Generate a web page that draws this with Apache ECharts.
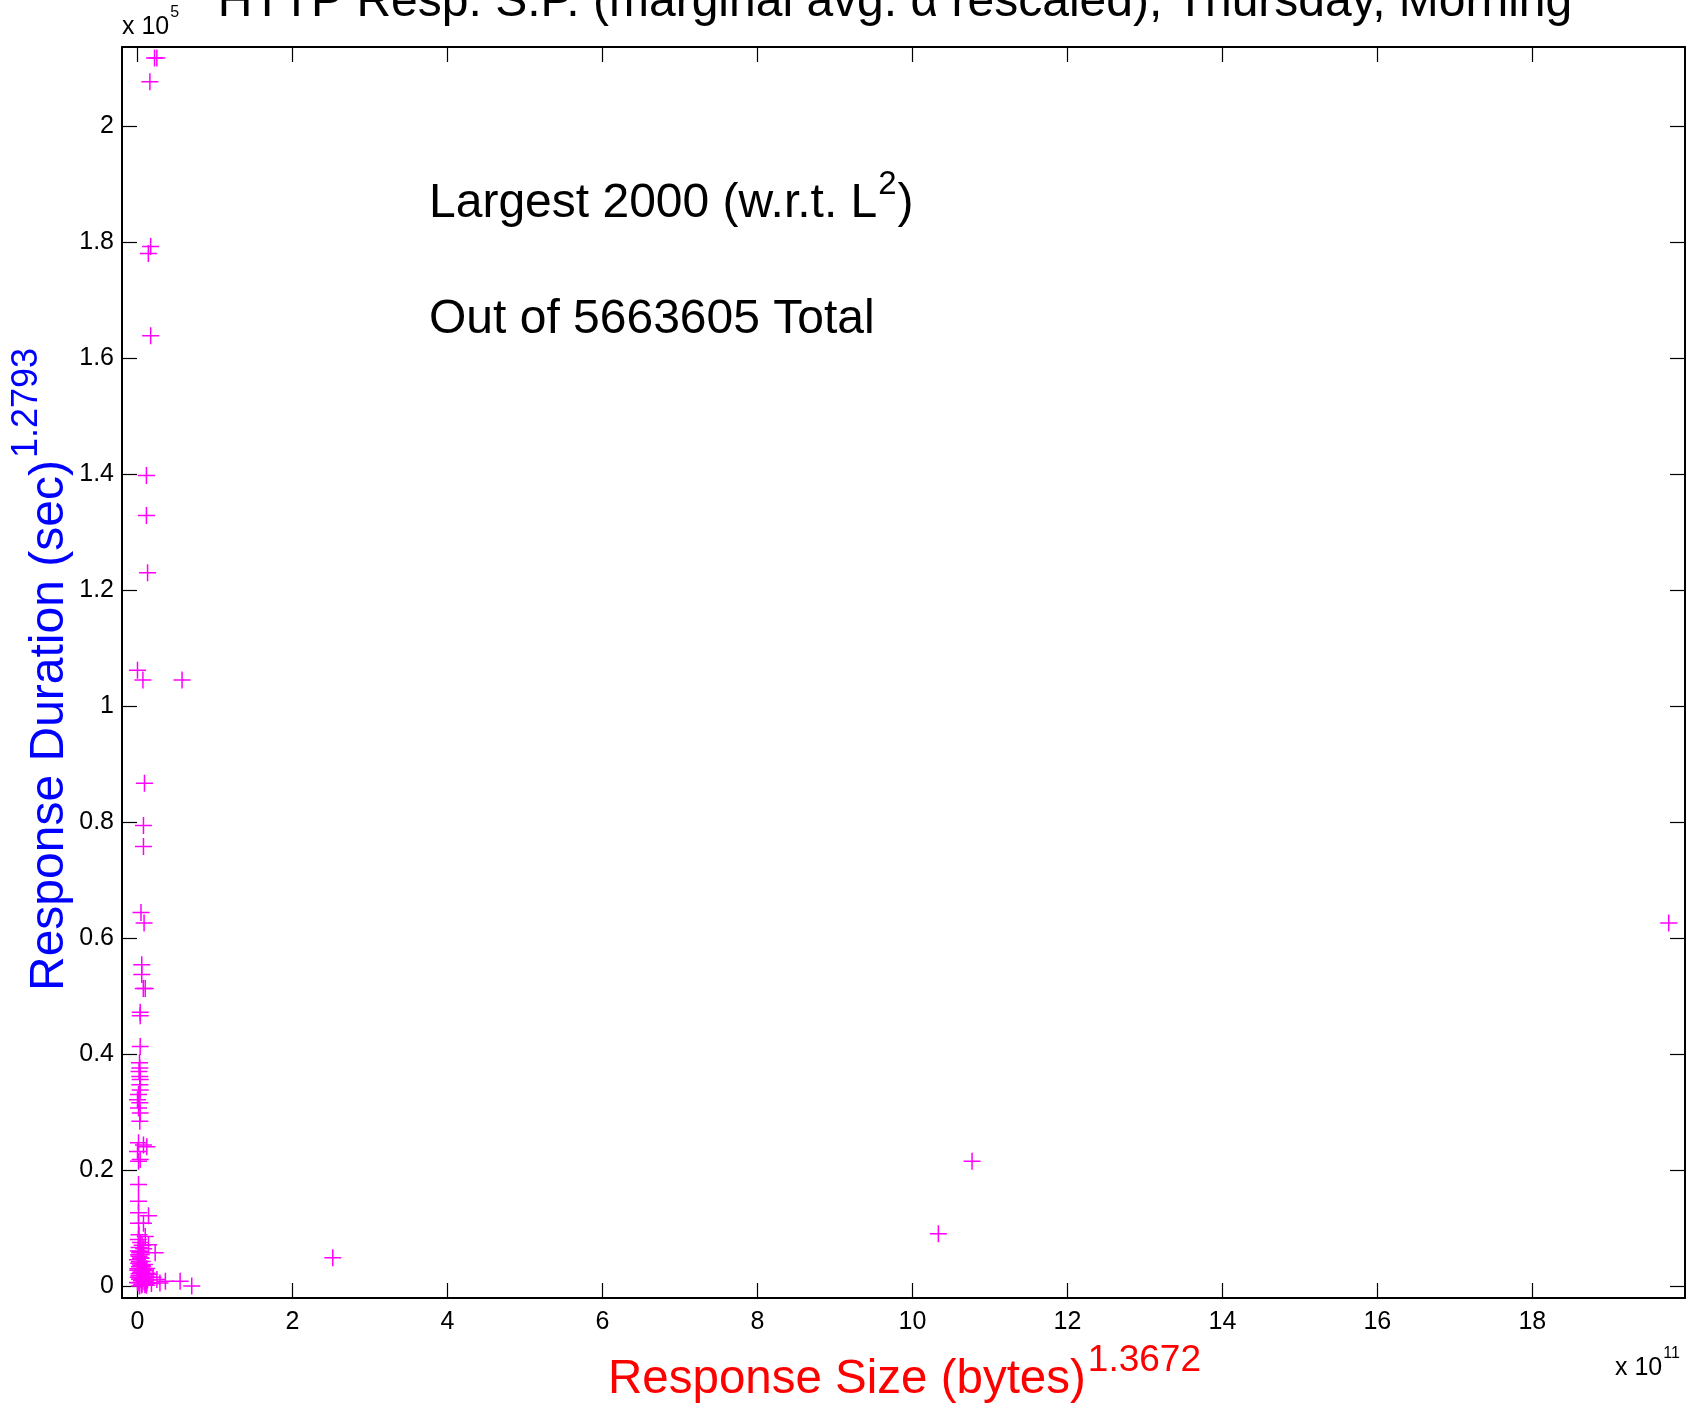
<!DOCTYPE html>
<html><head><meta charset="utf-8">
<script src="https://cdn.jsdelivr.net/npm/echarts@6/dist/echarts.min.js"></script>
<style>html,body{margin:0;padding:0;background:#fff}#c{width:1699px;height:1408px}</style>
</head><body><div id="c"></div>
<script>
// ---- tick values ----
const xTicks = [0, 2, 4, 6, 8, 10, 12, 14, 16, 18];
const yTicks = [0, 0.2, 0.4, 0.6, 0.8, 1, 1.2, 1.4, 1.6, 1.8, 2];

// ---- data (x in units of 1e11, y in units of 1e5) ----
// isolated points
const sizeSparse = [0.22, 0.25, 0.16, 0.17, 0.14, 0.17, 0.115, 0.115, 0.13, 0.0, 0.07, 0.575, 0.09, 0.077, 0.077, 0.045, 0.085, 19.76,
  0.055, 0.055, 0.075, 0.10, 0.035, 0.035, 0.035, 0.026, 0.03, 0.02, 0.03, 0.035, 0.03, 0.035, 0.013, 0.0, 0.03, 0.013, 0.035, 0.03,
  0.013, 0.077, 0.12, 0.0, 0.035, 0.013, 0.013, 0.013, 0.013, 0.142, 0.013, 0.077, 0.02, 0.10, 0.142, 0.228,
  2.52, 10.335, 10.77, 0.29, 0.36, 0.55, 0.70, 0.25, 0.20, 0.18, 0.15, 0.12];
const durSparse = [2.118, 2.118, 2.077, 1.793, 1.781, 1.639, 1.398, 1.329, 1.230, 1.062, 1.045, 1.045, 0.867, 0.794, 0.758, 0.644, 0.626, 0.626,
  0.554, 0.537, 0.513, 0.513, 0.472, 0.466, 0.413, 0.385, 0.376, 0.370, 0.361, 0.356, 0.347, 0.338, 0.330, 0.321, 0.316, 0.307, 0.298, 0.284,
  0.247, 0.243, 0.240, 0.232, 0.218, 0.215, 0.175, 0.146, 0.126, 0.121, 0.108, 0.108, 0.088, 0.085, 0.071, 0.057,
  0.0486, 0.0899, 0.215, 0.005, 0.008, 0.008, 0.0, 0.011, 0.015, 0.004, 0.020, 0.030];
// dense cluster near the origin
const sizeCluster = [0.01, 0.03, 0.05, 0.02, 0.04, 0.0, 0.06, 0.015, 0.035, 0.025, 0.045, 0.005, 0.055, 0.02, 0.04, 0.01, 0.03, 0.05, 0.0, 0.06, 0.025,
  0.035, 0.015, 0.045, 0.025, 0.055, 0.005, 0.04, 0.02, 0.03, 0.01, 0.05,
  0.08, 0.10, 0.12, 0.09, 0.11, 0.07, 0.13, 0.085, 0.105, 0.095, 0.115, 0.075, 0.065, 0.09, 0.12,
  0.02, 0.06, 0.04, 0.08, 0.01];
const durCluster = [0.060, 0.057, 0.054, 0.051, 0.048, 0.045, 0.042, 0.039, 0.036, 0.033, 0.030, 0.027, 0.024, 0.021, 0.018, 0.015, 0.012, 0.009, 0.006, 0.003, 0.000,
  0.0595, 0.0535, 0.0475, 0.0415, 0.0355, 0.0295, 0.0235, 0.0175, 0.0115, 0.0055, 0.0015,
  0.030, 0.026, 0.022, 0.019, 0.016, 0.013, 0.010, 0.007, 0.004, 0.002, 0.001, 0.028, 0.034, 0.037, 0.006,
  0.066, 0.070, 0.075, 0.064, 0.080];

const TITLE = 'HTTP Resp. S.P. (marginal avg. \u03B1 rescaled), Thursday, Morning';
const FONT = '"Liberation Sans", Arial, Helvetica, sans-serif';

const points = [];
for (let i = 0; i < sizeCluster.length; i++) points.push([sizeCluster[i], durCluster[i]]);
for (let i = 0; i < sizeSparse.length; i++) points.push([sizeSparse[i], durSparse[i]]);

const mctx = document.createElement('canvas').getContext('2d');
function tw(t, s) { mctx.font = s + 'px ' + FONT; return mctx.measureText(t).width; }

function txt(x, y, text, size, color, align, rot) {
  const o = { type: 'text', x: x, y: y, silent: true,
    style: { text: text, font: size + 'px ' + FONT, fill: color, align: align || 'left', verticalAlign: 'middle' } };
  if (rot) o.rotation = rot;
  return o;
}

const chart = echarts.init(document.getElementById('c'), null, { renderer: 'canvas' });
const axisLineStyle = { color: '#000', width: 2 };
const tickStyle = { color: '#000', width: 1.2 };
const labelStyle = { color: '#000', fontSize: 25, fontFamily: FONT };

const xMain = 'Response Size (bytes)';
const yMain = 'Response Duration (sec)';
const l1 = 'Largest 2000 (w.r.t. L';
const xMainW = tw(xMain, 47.5), yMainW = tw(yMain, 48), l1W = tw(l1, 48), x10W = tw('x 10', 25);

const graphics = [
  txt(895, 3, TITLE, 48, '#000', 'center'),
  txt(429, 204, l1, 48, '#000'),
  txt(429 + l1W + 1, 185, '2', 33, '#000'),
  txt(429 + l1W + tw('2', 33) + 2, 204, ')', 48, '#000'),
  txt(429, 320, 'Out of 5663605 Total', 48, '#000'),
  txt(608, 1380, xMain, 47.5, '#ff0000'),
  txt(608 + xMainW + 2, 1361, '1.3672', 37, '#ff0000'),
  txt(50, 991, yMain, 48, '#0000ff', 'left', Math.PI / 2),
  txt(27, 991 - yMainW - 2, '1.2793', 36, '#0000ff', 'left', Math.PI / 2),
  txt(122, 27, 'x 10', 25, '#000'),
  txt(122 + x10W + 1, 13, '5', 16, '#000'),
  txt(1615, 1368, 'x 10', 25, '#000'),
  txt(1615 + x10W + 1, 1354, '11', 16, '#000')
];

const option = {
  animation: false,
  backgroundColor: '#fff',
  grid: { left: 122, top: 47, right: 14, bottom: 110, containLabel: false },
  xAxis: [
    { type: 'value', position: 'bottom', min: -0.2, max: 19.97,
      axisLine: { show: true, onZero: false, lineStyle: axisLineStyle },
      axisTick: { show: true, inside: true, length: 15, lineStyle: tickStyle, customValues: xTicks },
      axisLabel: { show: true, margin: 12, customValues: xTicks, ...labelStyle },
      splitLine: { show: false } },
    { type: 'value', position: 'top', min: -0.2, max: 19.97,
      axisLine: { show: true, onZero: false, lineStyle: axisLineStyle },
      axisTick: { show: true, inside: true, length: 15, lineStyle: tickStyle, customValues: xTicks },
      axisLabel: { show: false, customValues: xTicks },
      splitLine: { show: false } }
  ],
  yAxis: [
    { type: 'value', position: 'left', min: -0.0209, max: 2.137,
      axisLine: { show: true, onZero: false, lineStyle: axisLineStyle },
      axisTick: { show: true, inside: true, length: 15, lineStyle: tickStyle, customValues: yTicks },
      axisLabel: { show: true, margin: 8, customValues: yTicks, ...labelStyle },
      splitLine: { show: false } },
    { type: 'value', position: 'right', min: -0.0209, max: 2.137,
      axisLine: { show: true, onZero: false, lineStyle: axisLineStyle },
      axisTick: { show: true, inside: true, length: 15, lineStyle: tickStyle, customValues: yTicks },
      axisLabel: { show: false, customValues: yTicks },
      splitLine: { show: false } }
  ],
  series: [{
    type: 'scatter',
    xAxisIndex: 0, yAxisIndex: 0,
    data: points,
    symbol: 'path://M10,0L10,20M0,10L20,10',
    symbolSize: 17,
    itemStyle: { color: 'rgba(0,0,0,0)', borderColor: '#ff00ff', borderWidth: 1.5, opacity: 1 },
    emphasis: { disabled: true },
    silent: true
  }],
  graphic: graphics
};
chart.setOption(option);
</script>
</body></html>
